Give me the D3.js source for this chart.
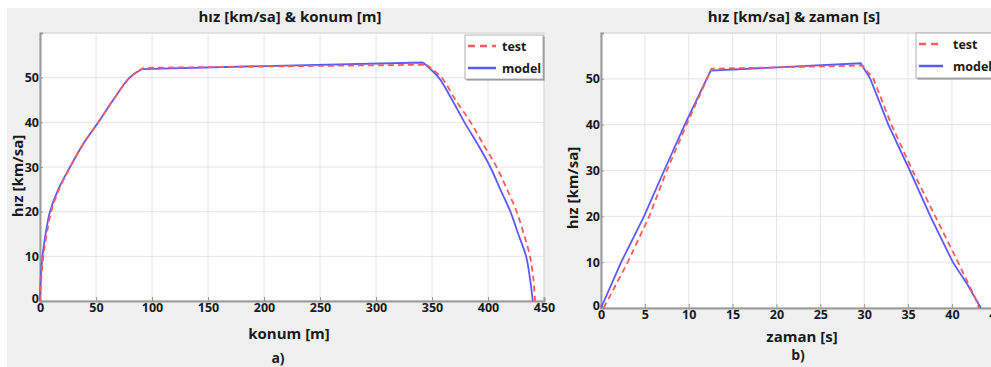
<!DOCTYPE html>
<html>
<head>
<meta charset="utf-8">
<script src="https://cdn.jsdelivr.net/npm/d3@7"></script>
<style>
  body { margin: 0; background: #fff; }
  svg { display: block; }
  svg text { font-family: "Open Sans", "DejaVu Sans", sans-serif; font-weight: bold; }
</style>
</head>
<body>
<div id="vis"></div>
<script>
// hız vs konum (a)
const konumModel = [0, 0.6, 2.2, 5, 8.9, 16.3, 26.8, 38.2, 52, 65.3, 80, 91, 200, 342, 356, 368, 379, 391, 402, 411, 420, 427, 434, 437.5, 440];
const hizModelK  = [0, 5, 10, 15, 20, 25, 30, 35, 40, 45, 50, 51.9, 52.6, 53.4, 50, 45, 40, 35, 30, 25, 20, 15, 10, 5, 0];
const konumTest  = [0, 1.1, 3, 6, 10, 17, 27, 38.2, 52, 65.3, 80, 88, 93, 200, 345, 358.6, 371, 384.5, 396, 407.7, 417, 425.6, 432, 437.5, 440.5, 442];
const hizTestK   = [0, 5, 10, 15, 20, 25, 30, 35, 40, 45, 50, 51.6, 52.2, 52.5, 52.9, 50, 45, 40, 35, 30, 25, 20, 15, 10, 5, 0];

// hız vs zaman (b)
const zamanModel = [0, 2.3, 4.9, 7.2, 9.55, 12.5, 20, 29.6, 30.7, 32.75, 35.2, 37.55, 40.1, 41.8, 42.7, 43.3];
const hizModelZ  = [0, 10, 20, 30, 40, 51.8, 52.5, 53.4, 50, 40, 30, 20, 10, 5, 2, 0];
const zamanTest  = [0.3, 3.05, 5.5, 7.5, 9.75, 12.6, 20, 29.8, 31.05, 33.1, 35.5, 38.1, 40.7, 41.95, 42.7, 43.1];
const hizTestZ   = [0, 10, 20, 30, 40, 52.2, 52.5, 52.9, 50, 40, 30, 20, 10, 5, 2, 0];

const konumTicks = [0, 50, 100, 150, 200, 250, 300, 350, 400, 450];
const zamanTicks = [0, 5, 10, 15, 20, 25, 30, 35, 40, 45];
const hizTicks = [0, 10, 20, 30, 40, 50];
const hizGrid = [10, 20, 30, 40, 50, 60];
const seriesNames = ["test", "model"];

const W = 991, H = 367;
const svg = d3.select("#vis").append("svg")
  .attr("width", W).attr("height", H);

svg.append("rect").attr("width", W).attr("height", H).attr("fill", "#fff");
svg.append("rect").attr("x", 7).attr("y", 8).attr("width", W - 7).attr("height", H - 8).attr("fill", "#f0f0f0");

const testColor = "#ff5a5a", modelColor = "#5a5aff";
const smooth = d3.curveCatmullRom.alpha(0.5);

function zip(a, b) { return a.map((v, i) => [v, b[i]]); }

// split a series at the plateau corners: curved accel/decel, straight cruise
function pieces(pts, smoothEnds) {
  if (!smoothEnds) return [[pts, d3.curveLinear]];
  let top = d3.maxIndex(pts, d => d[1]);
  let knee = pts.findIndex(d => d[1] >= 51.5);
  return [
    [pts.slice(0, knee + 1), smooth],
    [pts.slice(knee, top + 1), d3.curveLinear],
    [pts.slice(top), smooth]
  ];
}

function panel(cfg) {
  const x = d3.scaleLinear().domain(cfg.xDomain).range([cfg.left, cfg.right]);
  const y = d3.scaleLinear().domain([0, 60]).range([cfg.bottom, cfg.top]);
  const g = svg.append("g");

  // plot area
  g.append("rect")
    .attr("x", cfg.left).attr("y", cfg.top)
    .attr("width", cfg.right - cfg.left).attr("height", cfg.bottom - cfg.top)
    .attr("fill", "#fff").attr("stroke", "#c8c8c8");

  // grid
  g.selectAll(".vg").data(cfg.xTicks.slice(1)).join("line")
    .attr("x1", d => x(d)).attr("x2", d => x(d))
    .attr("y1", cfg.top).attr("y2", cfg.bottom)
    .attr("stroke", "#e4e4e4");
  g.selectAll(".hg").data(hizGrid).join("line")
    .attr("x1", cfg.left).attr("x2", cfg.right)
    .attr("y1", d => y(d)).attr("y2", d => y(d))
    .attr("stroke", "#e4e4e4");

  // axes
  const xAxis = g.append("g")
    .attr("transform", `translate(0,${cfg.bottom})`)
    .call(d3.axisBottom(x).tickValues(cfg.xTicks).tickFormat(d3.format("d")).tickSize(-4).tickPadding(2));
  const yAxis = g.append("g")
    .attr("transform", `translate(${cfg.left},0)`)
    .call(d3.axisLeft(y).tickValues(hizTicks).tickSize(-3).tickPadding(1));
  [xAxis, yAxis].forEach(a => {
    a.attr("font-family", null).attr("font-size", null);
    a.select(".domain").attr("stroke", "#9a9a9a").attr("stroke-width", 2);
    a.selectAll(".tick line").attr("stroke", "#9a9a9a");
    a.selectAll("text").attr("fill", "#1a1a1a").style("font-size", "12.5px");
  });
  yAxis.selectAll(".tick text").filter(d => d === 0).attr("dy", "0.1em");

  // lines
  const series = [
    [zip(cfg.modelX, cfg.modelY), modelColor, null],
    [zip(cfg.testX, cfg.testY), testColor, "6,4"]
  ];
  series.forEach(([pts, color, dash]) => {
    const d = pieces(pts, cfg.smooth).map(([p, c]) =>
      d3.line().x(v => x(v[0])).y(v => y(v[1])).curve(c)(p)).join("");
    g.append("path").attr("d", d)
      .attr("fill", "none").attr("stroke", color).attr("stroke-width", 1.8)
      .attr("stroke-dasharray", dash);
  });

  // titles
  g.append("text").attr("x", cfg.titleX).attr("y", 22)
    .attr("text-anchor", "middle").style("font-size", "15px")
    .attr("fill", "#1a1a1a").text(cfg.title);
  g.append("text")
    .attr("transform", `translate(${cfg.yLabelX},${cfg.yLabelY}) rotate(-90)`)
    .attr("text-anchor", "middle").attr("dominant-baseline", "central")
    .style("font-size", "15px")
    .attr("fill", "#1a1a1a").text("hız [km/sa]");
  g.append("text").attr("x", cfg.xLabelX).attr("y", cfg.xLabelY)
    .attr("text-anchor", "middle").style("font-size", "15px")
    .attr("fill", "#1a1a1a").text(cfg.xLabel);
  g.append("text").attr("x", cfg.subX).attr("y", cfg.subY)
    .attr("text-anchor", "middle").style("font-size", "14px")
    .attr("fill", "#1a1a1a").text(cfg.sub);

  // legend
  const L = cfg.legend;
  g.append("rect").attr("x", L.x + 1.5).attr("y", L.y + 1.5).attr("width", L.w).attr("height", L.h)
    .attr("fill", "#8a8a8a");
  g.append("rect").attr("x", L.x).attr("y", L.y).attr("width", L.w).attr("height", L.h)
    .attr("fill", "#fff").attr("stroke", "#b0b0b0");
  seriesNames.forEach((name, i) => {
    const yy = L.y + 11 + i * 22;
    g.append("line").attr("x1", L.x + 3).attr("x2", L.x + L.lineW).attr("y1", yy).attr("y2", yy)
      .attr("stroke", name === "test" ? testColor : modelColor).attr("stroke-width", 2.5)
      .attr("stroke-dasharray", name === "test" ? "7,5" : null);
    g.append("text").attr("x", L.x + L.textX).attr("y", yy).attr("dominant-baseline", "central")
      .style("font-size", "12.5px").attr("fill", "#1a1a1a").text(name);
  });
}

panel({
  xDomain: [0, 450], xTicks: konumTicks, smooth: true,
  left: 40, right: 544, top: 33, bottom: 301,
  modelX: konumModel, modelY: hizModelK, testX: konumTest, testY: hizTestK,
  title: "hız [km/sa] & konum [m]", titleX: 290,
  yLabelX: 17, yLabelY: 176,
  xLabel: "konum [m]", xLabelX: 289, xLabelY: 339,
  sub: "a)", subX: 278, subY: 363,
  legend: { x: 465, y: 35, w: 78, h: 44, lineW: 31, textX: 37 }
});

panel({
  xDomain: [0, 45], xTicks: zamanTicks, smooth: false,
  left: 601, right: 995.8, top: 33, bottom: 308,
  modelX: zamanModel, modelY: hizModelZ, testX: zamanTest, testY: hizTestZ,
  title: "hız [km/sa] & zaman [s]", titleX: 794,
  yLabelX: 572, yLabelY: 188,
  xLabel: "zaman [s]", xLabelX: 802, xLabelY: 342,
  sub: "b)", subX: 798, subY: 360,
  legend: { x: 916, y: 33, w: 80, h: 45, lineW: 27, textX: 37 }
});
</script>
</body>
</html>
